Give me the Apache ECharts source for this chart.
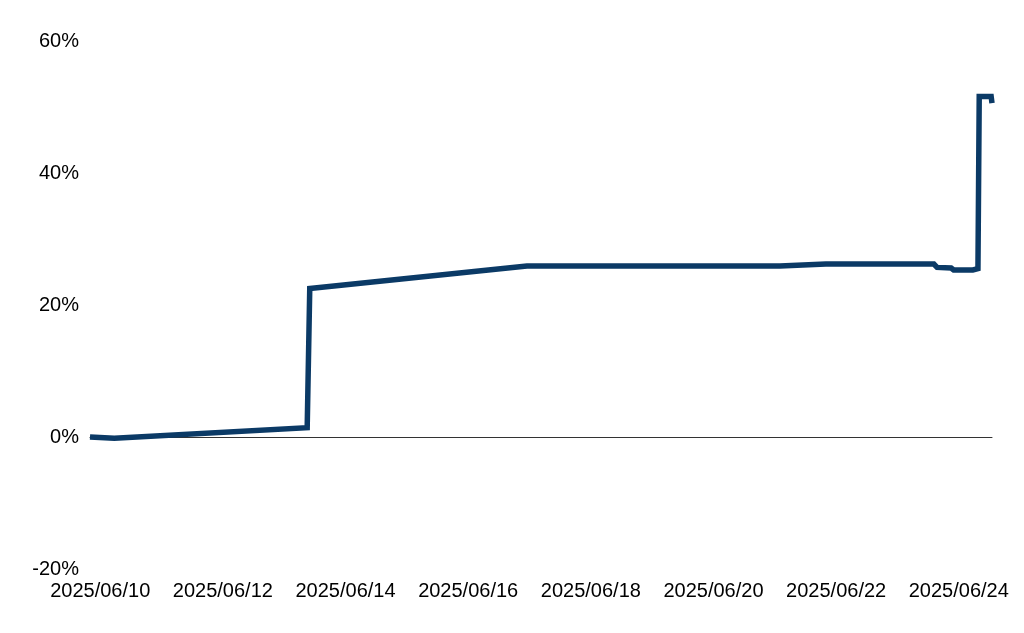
<!DOCTYPE html>
<html>
<head>
<meta charset="utf-8">
<script src="https://cdn.jsdelivr.net/npm/echarts@6/dist/echarts.min.js"></script>
<style>
html,body{margin:0;padding:0;background:#fff;}
#chart{width:1024px;height:633px;}
</style>
</head>
<body>
<div id="chart"></div>
<script>
// Data
var times = [
  '2025-06-09 20:00', '2025-06-10 05:30', '2025-06-13 09:00', '2025-06-13 10:00',
  '2025-06-16 23:00', '2025-06-21 02:00', '2025-06-21 20:00', '2025-06-23 14:15',
  '2025-06-23 15:30', '2025-06-23 21:00', '2025-06-23 22:00', '2025-06-24 05:30',
  '2025-06-24 07:30', '2025-06-24 08:00', '2025-06-24 12:40', '2025-06-24 13:00'
];
var values = [
  0, -0.2, 1.4, 22.5,
  25.9, 25.9, 26.2, 26.2,
  25.7, 25.6, 25.3, 25.3,
  25.5, 51.6, 51.6, 50.6
];
var xTickLabels = ['2025/06/10','2025/06/12','2025/06/14','2025/06/16','2025/06/18','2025/06/20','2025/06/22','2025/06/24'];
var yTicks = [-20, 0, 20, 40, 60];

function parseT(s){ return echarts.time.parse(s).getTime(); }
var xTickValues = xTickLabels.map(function(s){ return parseT(s.replace(/\//g, '-') + ' 00:00'); });
var seriesData = times.map(function(t, i){ return [parseT(t), values[i]]; });
var xMin = parseT(times[0]);
var xMax = parseT(times[times.length - 1]);

var font = {color: '#000', fontSize: 20, fontFamily: '"Liberation Sans", Arial, sans-serif'};

var chart = echarts.init(document.getElementById('chart'), null, {renderer: 'canvas'});
chart.setOption({
  animation: false,
  backgroundColor: '#fff',
  grid: {left: 90, right: 32, top: 41, bottom: 64, containLabel: false},
  xAxis: [{
    type: 'value',
    min: xMin, max: xMax,
    axisLine: {show: false, onZero: false},
    axisTick: {show: false},
    splitLine: {show: false},
    axisLabel: Object.assign({
      margin: 12,
      customValues: xTickValues,
      hideOverlap: false,
      formatter: function(v){
        var best = 0, d = Infinity;
        for (var i = 0; i < xTickValues.length; i++) {
          var dd = Math.abs(xTickValues[i] - v);
          if (dd < d) { d = dd; best = i; }
        }
        return xTickLabels[best];
      }
    }, font)
  }, {
    type: 'value',
    min: xMin, max: xMax,
    position: 'bottom',
    axisLine: {show: true, onZero: true, lineStyle: {color: '#333', width: 1}},
    axisTick: {show: false},
    axisLabel: {show: false},
    splitLine: {show: false}
  }],
  yAxis: {
    type: 'value',
    min: yTicks[0], max: yTicks[yTicks.length - 1], interval: 20,
    axisLine: {show: false},
    axisTick: {show: false},
    splitLine: {show: false},
    axisLabel: Object.assign({margin: 11, formatter: '{value}%', padding: [3, 0, 0, 0]}, font)
  },
  series: [{
    type: 'line',
    xAxisIndex: 0,
    data: seriesData,
    symbol: 'none',
    lineStyle: {color: '#0b3a66', width: 5.5, join: 'miter', cap: 'butt'},
    z: 5
  }]
});
</script>
</body>
</html>
